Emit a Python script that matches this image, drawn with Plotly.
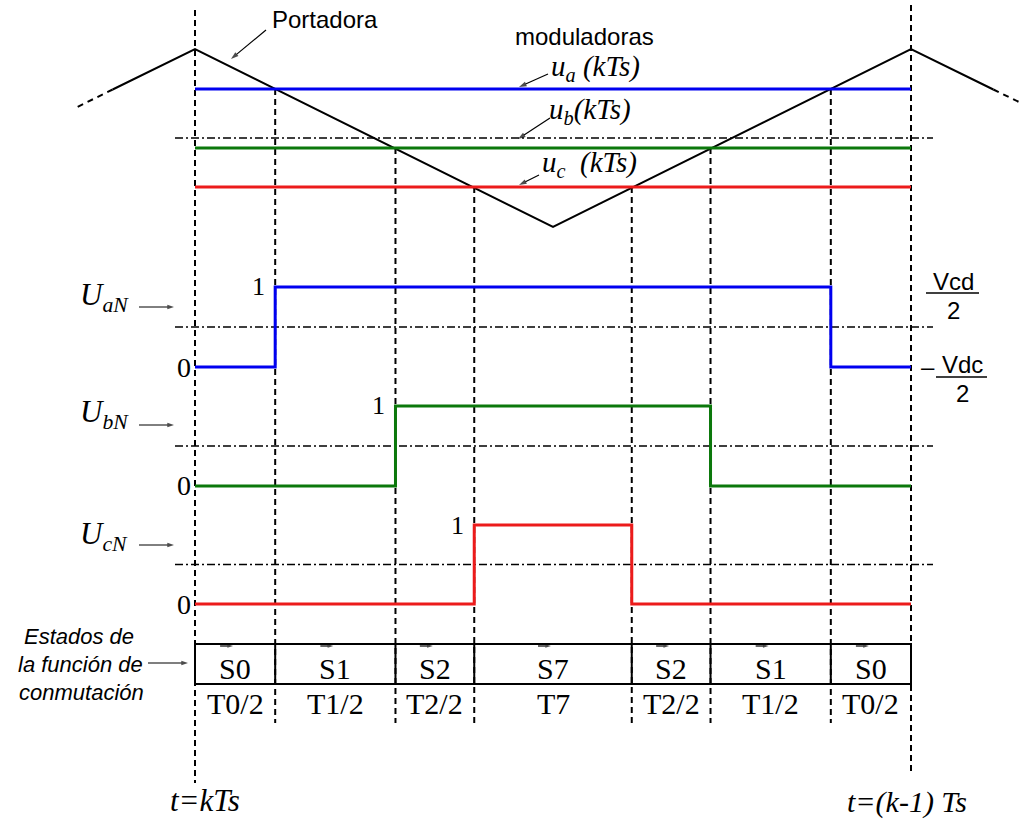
import plotly.graph_objects as go

W, H = 1022, 823

# ---------------- data ----------------
segment_names = ["T0/2", "T1/2", "T2/2", "T7", "T2/2", "T1/2", "T0/2"]
segment_durations = [0.112, 0.168, 0.110, 0.220, 0.110, 0.168, 0.112]   # fraction of Ts
state_labels = ["S0", "S1", "S2", "S7", "S2", "S1", "S0"]

# switching function of each leg, per segment
UaN_levels = [0, 1, 1, 1, 1, 1, 0]
UbN_levels = [0, 0, 1, 1, 1, 0, 0]
UcN_levels = [0, 0, 0, 1, 0, 0, 0]

# triangular carrier ("Portadora")
carrier_t = [0.0, 0.5, 1.0]
carrier_v = [1.0, -1.0, 1.0]
carrier_left_t = [-0.115, -0.168]     # solid end, dashed end
carrier_left_v = [0.545, 0.334]
carrier_right_t = [1.115, 1.152]
carrier_right_v = [0.545, 0.400]

# modulating signals u_a, u_b, u_c (kTs)
modulator_values = [0.55, -0.112, -0.55]

# ---------------- layout helpers ----------------
BLUE, GREEN, RED = "#0000f0", "#0b780b", "#ec1b1b"
SERIF = "Liberation Serif"
SANS = "Liberation Sans"

X0PX, X1PX = 195, 911           # pixel position of t=0 and t=Ts
SPAN = X1PX - X0PX


def tx(px):
    return (px - X0PX) / SPAN


def yrange(a, b):
    # value 0 at pixel row a, b pixels per unit
    return [(a - H) / b, a / b]


CAR_A, CAR_B = 138, 89
PANEL = {"y2": (367, 80), "y3": (486, 80), "y4": (604, 79)}

edges = [0.0]
for d in segment_durations:
    edges.append(edges[-1] + d)
centers = [(edges[i] + edges[i + 1]) / 2 for i in range(len(segment_durations))]

fig = go.Figure()

# carrier
fig.add_trace(go.Scatter(x=[carrier_left_t[0]] + carrier_t + [carrier_right_t[0]],
                         y=[carrier_left_v[0]] + carrier_v + [carrier_right_v[0]],
                         mode="lines", line=dict(color="black", width=2), yaxis="y"))
fig.add_trace(go.Scatter(x=carrier_left_t, y=carrier_left_v, mode="lines",
                         line=dict(color="black", width=2, dash="6px,5px"), yaxis="y"))
fig.add_trace(go.Scatter(x=carrier_right_t, y=carrier_right_v, mode="lines",
                         line=dict(color="black", width=2, dash="6px,5px"), yaxis="y"))

DASHDOT = "8px,3px,2px,3px"
ref_x = [tx(175), tx(933)]
# zero line of modulators
fig.add_trace(go.Scatter(x=ref_x, y=[0, 0], mode="lines",
                         line=dict(color="black", width=1.6, dash=DASHDOT), yaxis="y"))
for v, c in zip(modulator_values, [BLUE, GREEN, RED]):
    fig.add_trace(go.Scatter(x=[0, 1], y=[v, v], mode="lines",
                             line=dict(color=c, width=3), yaxis="y"))

# switching functions
for lv, c, ax in zip([UaN_levels, UbN_levels, UcN_levels], [BLUE, GREEN, RED], ["y2", "y3", "y4"]):
    fig.add_trace(go.Scatter(x=ref_x, y=[0.5, 0.5], mode="lines",
                             line=dict(color="black", width=1.6, dash=DASHDOT), yaxis=ax))
    fig.add_trace(go.Scatter(x=edges, y=lv + [lv[-1]], mode="lines", line_shape="hv",
                             line=dict(color=c, width=3), yaxis=ax))


# pointer arrows drawn on a pixel frame axis
def arrow(x0, y0, x1, y1, w=1.2, size=8):
    fig.add_trace(go.Scatter(x=[x0, x1], y=[y0, y1], mode="lines+markers",
                             xaxis="x2", yaxis="y5",
                             line=dict(color="black", width=w),
                             marker=dict(symbol="arrow", size=[0, size], angleref="previous",
                                         color="black", line=dict(width=0))))


arrow(266, 30, 231, 59)
arrow(548, 74, 519, 87)
arrow(550, 118, 518, 139)
arrow(539, 175, 519, 185)
for ya in [307, 425, 545]:
    arrow(139, ya, 174, ya, 1.0, 7)
arrow(148, 663, 188, 663, 1.2, 7)
# vector arrows above the state names
for c in centers:
    xc = X0PX + c * SPAN - 8
    arrow(xc - 7, 646, xc + 6, 646, 1.2, 6)

shapes = []
GUIDE = dict(color="black", width=2, dash="6px,4px")
# main time marks
shapes.append(dict(type="line", xref="x", yref="paper", x0=0, x1=0,
                   y0=1 - 10 / H, y1=1 - 783 / H, line=GUIDE, layer="below"))
shapes.append(dict(type="line", xref="x", yref="paper", x0=1, x1=1,
                   y0=1 - 5 / H, y1=1 - 772 / H, line=GUIDE, layer="below"))
# switching instants: from carrier/modulator crossing down to the table
levels_all = [UaN_levels, UbN_levels, UcN_levels]
for i in range(1, len(edges) - 1):
    for k, lv in enumerate(levels_all):
        if lv[i] != lv[i - 1]:
            shapes.append(dict(type="line", xref="x", yref="y", x0=edges[i], x1=edges[i],
                               y0=modulator_values[k], y1=(CAR_A - 723) / CAR_B,
                               line=GUIDE, layer="below"))
# state table
TOP, BOT = 644, 684
shapes.append(dict(type="rect", xref="x", yref="paper", x0=0, x1=1,
                   y0=1 - TOP / H, y1=1 - BOT / H, line=dict(color="black", width=2),
                   fillcolor="rgba(0,0,0,0)"))
for e in edges[1:-1]:
    shapes.append(dict(type="line", xref="x", yref="paper", x0=e, x1=e,
                       y0=1 - TOP / H, y1=1 - BOT / H, line=dict(color="black", width=2)))
# fraction bars
shapes.append(dict(type="line", xref="paper", yref="paper", x0=926 / W, x1=979 / W,
                   y0=1 - 293 / H, y1=1 - 293 / H, line=dict(color="black", width=1.5)))
shapes.append(dict(type="line", xref="paper", yref="paper", x0=936 / W, x1=987 / W,
                   y0=1 - 377 / H, y1=1 - 377 / H, line=dict(color="black", width=1.5)))

ann = []


def text(x, y, s, size, family, xanchor="center"):
    ann.append(dict(x=x / W, y=1 - y / H, xref="paper", yref="paper", text=s, showarrow=False,
                    font=dict(size=size, family=family, color="black"),
                    xanchor=xanchor, yanchor="middle"))


text(270, 20, "Portadora", 24, SANS, "left")
text(584, 36, "moduladoras", 24, SANS)
text(549, 68, "<i>u<sub>a</sub> (kTs)</i>", 29, SERIF, "left")
text(547, 111, "<i>u<sub>b</sub>(kTs)</i>", 29, SERIF, "left")
text(540, 164, "<i>u<sub>c</sub>  (kTs)</i>", 29, SERIF, "left")

for lab, yl in [("aN", 297), ("bN", 414), ("cN", 536)]:
    text(78, yl, "<i>U<sub>%s</sub></i>" % lab, 31, SERIF, "left")

# level marks
for lv, ax in zip(levels_all, ["y2", "y3", "y4"]):
    a, b = PANEL[ax]
    i_on = lv.index(1)
    ann.append(dict(x=edges[i_on], y=1 - (a - b) / H, xref="x", yref="paper", text="1",
                    showarrow=False, xanchor="right", yanchor="middle", xshift=-8,
                    font=dict(size=26, family=SERIF, color="black")))
    ann.append(dict(x=0, y=1 - a / H, xref="x", yref="paper", text="0", showarrow=False,
                    xanchor="right", yanchor="middle", xshift=-2,
                    font=dict(size=28, family=SERIF, color="black")))

text(953, 281, "Vcd", 24, SANS)
text(953, 310, "2", 24, SANS)
text(928, 366, "\u2013", 24, SANS)
text(962, 364, "Vdc", 24, SANS)
text(962, 393, "2", 24, SANS)

text(79, 636, "<i>Estados de</i>", 22, SANS)
text(80, 664, "<i>la función de</i>", 22, SANS)
text(81, 692, "<i>conmutación</i>", 22, SANS)

for c, s, tname in zip(centers, state_labels, segment_names):
    ann.append(dict(x=c, y=1 - 668 / H, xref="x", yref="paper", text=s, showarrow=False,
                    xanchor="center", yanchor="middle",
                    font=dict(size=30, family=SERIF, color="black")))
    ann.append(dict(x=c, y=1 - 703 / H, xref="x", yref="paper", text=tname, showarrow=False,
                    xanchor="center", yanchor="middle",
                    font=dict(size=30, family=SERIF, color="black")))

text(205, 800, "<i>t=kTs</i>", 31, SERIF)
text(907, 802, "<i>t=(k-1) Ts</i>", 30, SERIF)

xr = [tx(0), tx(W)]
fig.update_layout(
    width=W, height=H, margin=dict(l=0, r=0, t=0, b=0),
    paper_bgcolor="white", plot_bgcolor="white", showlegend=False,
    xaxis=dict(range=xr, visible=False, fixedrange=True),
    xaxis2=dict(range=[0, W], visible=False, overlaying="x"),
    yaxis=dict(range=yrange(CAR_A, CAR_B), visible=False, domain=[0, 1]),
    yaxis2=dict(range=yrange(*PANEL["y2"]), visible=False, overlaying="y"),
    yaxis3=dict(range=yrange(*PANEL["y3"]), visible=False, overlaying="y"),
    yaxis4=dict(range=yrange(*PANEL["y4"]), visible=False, overlaying="y"),
    yaxis5=dict(range=[H, 0], visible=False, overlaying="y"),
    shapes=shapes, annotations=ann,
)

fig.write_html("out.html", config={"displayModeBar": False})
